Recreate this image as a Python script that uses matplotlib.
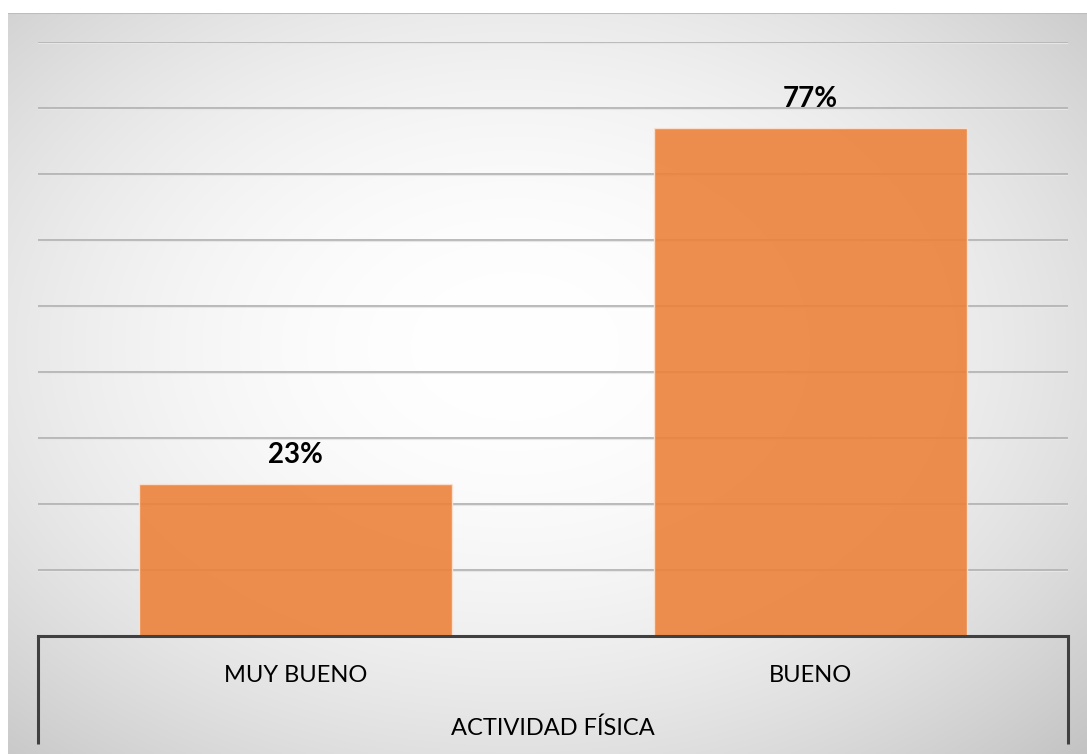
import matplotlib
matplotlib.use("Agg")
import matplotlib.pyplot as plt
import matplotlib.transforms as mtransforms
import numpy as np

# data
categories = ["MUY BUENO", "BUENO"]
values = [23, 77]
value_labels = ["23%", "77%"]
group_label = "ACTIVIDAD FÍSICA"
grid_ticks = [10, 20, 30, 40, 50, 60, 70, 80, 90]

W, H, DPI = 1087, 754, 100
BAR_COLOR = "#EC823B"
AXIS_COLOR = "#404040"
GRID_COLOR = "#B4B4B4"

fig = plt.figure(figsize=(W / DPI, H / DPI), dpi=DPI)
fig.patch.set_facecolor("white")

# chart-area radial gradient background
bg = fig.add_axes([8 / W, 0, 1 - 8 / W, (H - 13) / H], zorder=0)
ny, nx = 300, 440
yy, xx = np.mgrid[0:1:ny * 1j, 0:1:nx * 1j]
d = np.sqrt(((xx - 0.47) / 0.53) ** 2 + ((yy - 0.55) / 0.55) ** 2) / np.sqrt(2)
v = (255 - 60 * np.clip(d, 0, 1) ** 2.0) / 255.0
img = np.dstack([v, v, v])
bg.imshow(img, extent=[0, 1, 0, 1], origin="lower", aspect="auto",
          interpolation="bilinear")
bg.axhline(1, color="#BDBDBD", lw=1.5)
bg.set_xlim(0, 1)
bg.set_ylim(0, 1)
bg.axis("off")

# plot area
left, right, top, base = 38, 1068, 42, 636
ax = fig.add_axes([left / W, (H - base) / H, (right - left) / W, (base - top) / H], zorder=1)
ax.patch.set_alpha(0)

x = np.arange(len(categories))
for gy in grid_ticks:
    ax.axhline(gy, color=GRID_COLOR, lw=1.3, zorder=1)
    ax.axhline(gy - 0.18, color="#E6E6E6", lw=0.8, zorder=1)

ax.bar(x, values, width=0.606, color=BAR_COLOR, alpha=0.9,
       edgecolor="#FBE3D3", linewidth=1.0, zorder=2)

for xi, val, lab in zip(x, values, value_labels):
    ax.annotate(lab, (xi, val), xytext=(0, 15.2), textcoords="offset points",
                ha="center", va="baseline", fontsize=20, fontweight="bold",
                family="Lato", color="black", zorder=4)

ax.set_xlim(-0.5, len(categories) - 0.5)
ax.set_ylim(0, 90)
ax.set_xticks([])
ax.set_yticks([])
for side in ["top", "left", "right"]:
    ax.spines[side].set_visible(False)
ax.spines["bottom"].set_color(AXIS_COLOR)
ax.spines["bottom"].set_linewidth(2.2)
ax.spines["bottom"].set_zorder(5)

# multi-level category axis
ph = base - top
trans = mtransforms.blended_transform_factory(ax.transData, ax.transAxes)
for xi, cat in zip(x, categories):
    ax.text(xi, -(682 - base) / ph, cat, transform=trans, ha="center",
            va="baseline", fontsize=17, family="Lato", color="black")
ax.text(0.5, -(735 - base) / ph, group_label, transform=ax.transAxes,
        ha="center", va="baseline", fontsize=17, family="Lato", color="black")

ext = -(744 - base) / ph
for xa in (0, 1):
    ax.plot([xa, xa], [0, ext], transform=ax.transAxes, color=AXIS_COLOR,
            lw=2.2, clip_on=False, solid_capstyle="butt", zorder=5)

fig.savefig("out.png", dpi=DPI, facecolor=fig.get_facecolor())
plt.close(fig)
